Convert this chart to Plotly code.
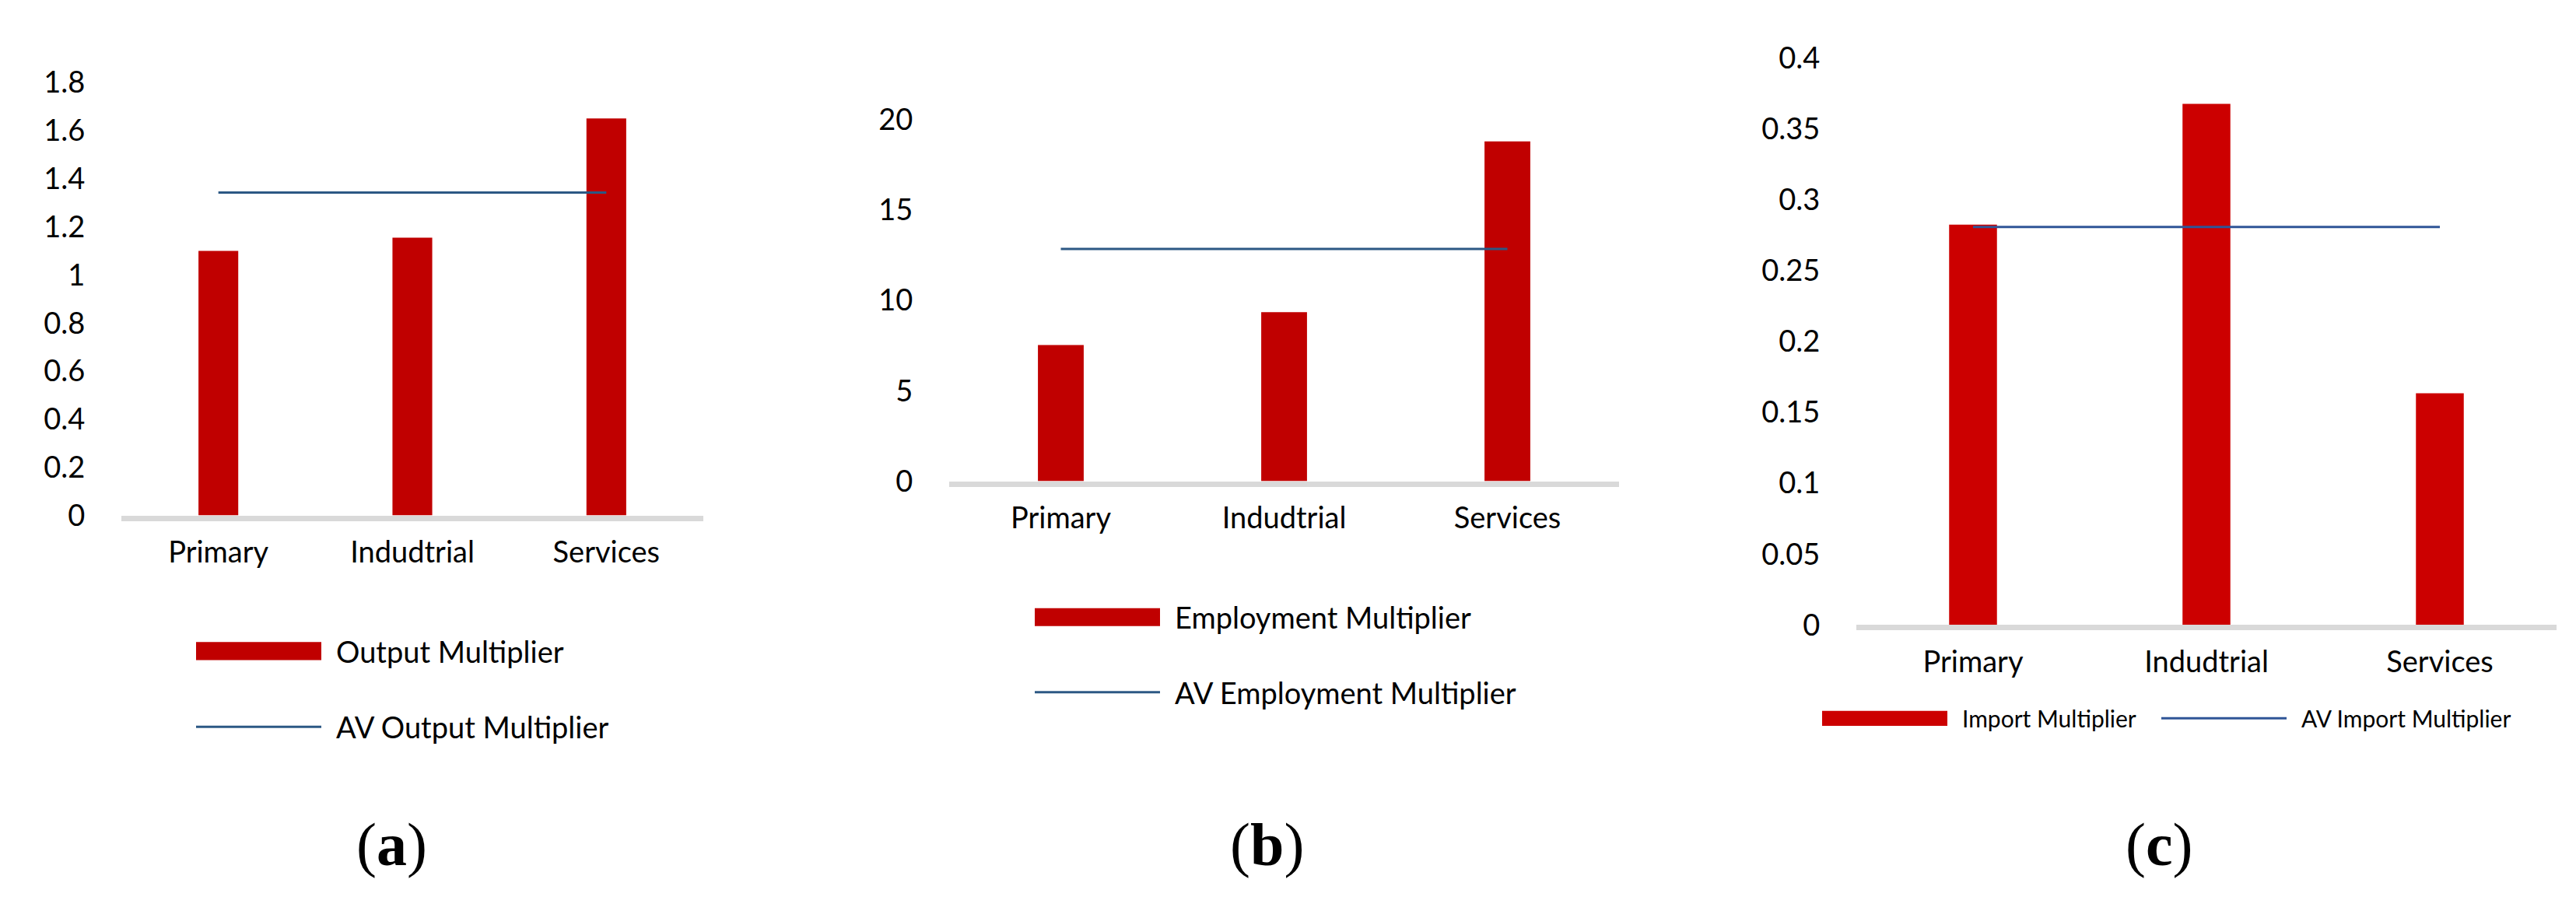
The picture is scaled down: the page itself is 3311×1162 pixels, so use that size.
import plotly.graph_objects as go

FIG_W, FIG_H = 3311, 1162

SECTORS = ["Primary", "Indudtrial", "Services"]

OUTPUT_MULT = [1.10, 1.155, 1.65]
AV_OUTPUT_MULT = [1.342, 1.342, 1.342]

EMPLOYMENT_MULT = [7.53, 9.34, 18.78]
AV_EMPLOYMENT_MULT = [12.83, 12.83, 12.83]

IMPORT_MULT = [0.2826, 0.3678, 0.1636]
AV_IMPORT_MULT = [0.281, 0.281, 0.281]

BAR_RED = "#C00000"
BAR_RED_C = "#CC0000"
LINE_BLUE = "#2C5884"
LINE_BLUE_C = "#2F5597"
AXIS_GREY = "#D9D9D9"
FONT = "Lato, 'Open Sans', sans-serif"
TICK_SIZE = 38


def px(x):
    return x / FIG_W


def py(y):
    return 1 - y / FIG_H


# one dict per panel: plot box in pixels (left, right, top of axis, zero line)
PANELS = [
    dict(bars=OUTPUT_MULT, avg=AV_OUTPUT_MULT, bar_name="Output Multiplier",
         avg_name="AV Output Multiplier", box=(148, 896, 76, 655.5), yrange=[0, 1.8], dtick=0.2,
         bar_color=BAR_RED, line_color=LINE_BLUE, tag="a", tag_x=495),
    dict(bars=EMPLOYMENT_MULT, avg=AV_EMPLOYMENT_MULT, bar_name="Employment Multiplier",
         avg_name="AV Employment Multiplier", box=(1212, 2073, 125.3, 609.7), yrange=[0, 20], dtick=5,
         bar_color=BAR_RED, line_color=LINE_BLUE, tag="b", tag_x=1620),
    dict(bars=IMPORT_MULT, avg=AV_IMPORT_MULT, bar_name="Import Multiplier",
         avg_name="AV Import Multiplier", box=(2378, 3278, 43.7, 802), yrange=[0, 0.4], dtick=0.05,
         bar_color=BAR_RED_C, line_color=LINE_BLUE_C, tag="c", tag_x=2767),
]

# legend swatches: (bar swatch x0, x1, y centre), (line swatch x0, x1, y centre), font size
LEGENDS = [
    ((244, 405, 837), (244, 405, 938.5), 38),
    ((1322, 1483, 791.5), (1322, 1483, 892), 38),
    ((2334, 2495, 927), (2770, 2931, 927), 30),
]

fig = go.Figure()
shapes = []
annotations = []

for i, (panel, legend) in enumerate(zip(PANELS, LEGENDS), start=1):
    suffix = "" if i == 1 else str(i)
    left, right, top, bottom = panel["box"]

    fig.add_trace(go.Bar(
        x=SECTORS, y=panel["bars"], width=0.205, name=panel["bar_name"],
        marker_color=panel["bar_color"], marker_line_width=0,
        xaxis="x" + suffix, yaxis="y" + suffix, showlegend=False,
    ))
    fig.add_trace(go.Scatter(
        x=SECTORS, y=panel["avg"], mode="lines", name=panel["avg_name"],
        line=dict(color=panel["line_color"], width=3),
        xaxis="x" + suffix, yaxis="y" + suffix, showlegend=False,
    ))

    fig.layout["xaxis" + suffix] = dict(
        domain=[px(left), px(right)], anchor="y" + suffix,
        showline=True, linecolor=AXIS_GREY, linewidth=7,
        showgrid=False, zeroline=False, ticks="",
        tickfont=dict(family=FONT, size=TICK_SIZE, color="black"),
        ticklabelstandoff=8,
    )
    # invisible outside ticks push the value labels away from the plot edge
    fig.layout["yaxis" + suffix] = dict(
        domain=[py(bottom), py(top)], anchor="x" + suffix,
        range=panel["yrange"], dtick=panel["dtick"], tick0=0,
        showline=False, showgrid=False, zeroline=False,
        ticks="outside", ticklen=38, tickcolor="rgba(0,0,0,0)",
        tickfont=dict(family=FONT, size=TICK_SIZE, color="black"),
    )

    (bx0, bx1, by), (lx0, lx1, ly), fsize = legend
    half = 12 if fsize > 32 else 10
    shapes.append(dict(type="rect", xref="paper", yref="paper",
                       x0=px(bx0), x1=px(bx1), y0=py(by - half), y1=py(by + half),
                       fillcolor=panel["bar_color"], line_width=0))
    shapes.append(dict(type="line", xref="paper", yref="paper",
                       x0=px(lx0), x1=px(lx1), y0=py(ly), y1=py(ly),
                       line=dict(color=panel["line_color"], width=3)))
    for text, x, y in ((panel["bar_name"], bx1 + 17, by), (panel["avg_name"], lx1 + 17, ly)):
        annotations.append(dict(text=text, xref="paper", yref="paper", x=px(x), y=py(y),
                                xanchor="left", yanchor="middle", showarrow=False,
                                font=dict(family=FONT, size=fsize, color="black")))

    annotations.append(dict(text=f"(<b>{panel['tag']}</b>)", xref="paper", yref="paper",
                            x=px(panel["tag_x"]), y=py(1096), xanchor="center", yanchor="middle",
                            showarrow=False,
                            font=dict(family="'Liberation Serif', 'DejaVu Serif', serif",
                                      size=78, color="black")))

fig.update_layout(
    width=FIG_W, height=FIG_H,
    margin=dict(l=0, r=0, t=0, b=0),
    paper_bgcolor="white", plot_bgcolor="white",
    showlegend=False,
    shapes=shapes, annotations=annotations,
)

fig.write_html("out.html")
